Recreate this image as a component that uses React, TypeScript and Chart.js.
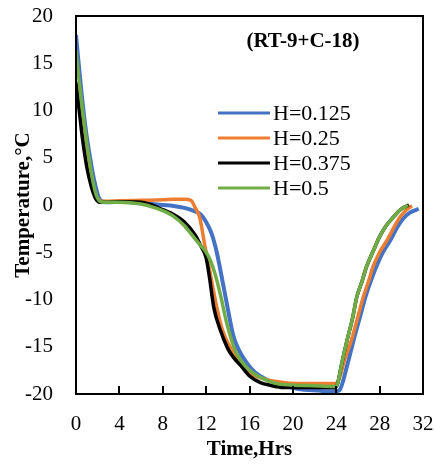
import { useEffect, useRef } from "react";
import { Chart, registerables } from "chart.js";

Chart.register(...registerables);

const chartTitle = "(RT-9+C-18)";
const xTitle = "Time,Hrs";
const yTitle = "Temperature,°C";
const labels = ["H=0.125", "H=0.25", "H=0.375", "H=0.5"];
const colors = ["#4472C4", "#ED7D31", "#000000", "#70AD47"];

const tBlue = [0, 0.2, 0.5, 0.9, 1.3, 1.7, 2.1, 2.5, 3, 4, 5, 6, 7, 8, 9, 10, 10.8, 11.5, 12.0, 12.5, 13.0, 13.5, 14.0, 14.5, 15.0, 15.8, 16.5, 17.6, 18.5, 19.5, 20.7, 22, 23, 24, 24.3, 25.0, 25.6, 26.2, 26.7, 27.2, 27.7, 28.3, 29.0, 29.6, 30.2, 30.8, 31.4, 31.6];
const vBlue = [18, 15.5, 12, 8, 5, 2.5, 0.8, 0.35, 0.3, 0.35, 0.3, 0.2, 0.1, 0, -0.1, -0.3, -0.6, -1.0, -1.8, -3.0, -5.1, -8.0, -11.0, -13.8, -15.3, -16.8, -17.7, -18.5, -18.9, -19.2, -19.5, -19.6, -19.7, -19.7, -19.6, -17, -14.3, -11.8, -9.7, -8, -6.5, -5, -3.7, -2.4, -1.4, -0.8, -0.5, -0.4];

const tOrange = [0, 0.3, 0.7, 1.1, 1.5, 1.9, 2.3, 2.8, 4, 6, 8, 9, 10, 10.6, 11.0, 11.4, 11.9, 12.2, 12.6, 13.0, 13.5, 14.2, 15.0, 16.0, 17.0, 18.0, 19.7, 21, 22.5, 23.9, 24.2, 24.8, 25.4, 26.0, 26.5, 27.0, 27.4, 28.0, 28.7, 29.3, 29.9, 30.4, 30.9, 31.0];
const vOrange = [12.9, 10.5, 7, 4.2, 2.2, 0.9, 0.4, 0.4, 0.45, 0.5, 0.55, 0.6, 0.6, 0.5, -0.3, -1.3, -4.4, -6.2, -8.6, -10.9, -13.2, -15.0, -16.5, -17.8, -18.3, -18.6, -18.85, -18.9, -18.9, -18.9, -18.6, -16.3, -14.3, -11.8, -9.7, -8, -6.5, -5, -3.7, -2.4, -1.24, -0.6, -0.15, -0.1];

const tBlack = [0, 0.3, 0.6, 1.0, 1.4, 1.8, 2.2, 2.7, 4, 6, 7, 8, 9, 10, 11, 11.5, 12.0, 12.3, 12.7, 13.3, 14.0, 14.5, 15.2, 16.0, 17, 18, 19.1, 20.5, 22, 23.9, 24.1, 24.5, 25.0, 25.5, 25.9, 26.4, 26.8, 27.4, 28.0, 28.6, 29.3, 29.9, 30.5, 30.7];
const vBlack = [13, 10, 7, 4, 2, 0.7, 0.3, 0.3, 0.35, 0.3, 0.0, -0.5, -1.0, -1.8, -3.2, -4.3, -5.6, -7.6, -10.8, -13.2, -15.2, -16.1, -17.0, -18.1, -18.8, -19.1, -19.3, -19.3, -19.3, -19.3, -19.0, -16.8, -14.3, -12, -9.7, -8, -6.5, -4.9, -3.35, -2.2, -1.24, -0.5, -0.1, 0.0];

const tGreen = [0, 0.3, 0.6, 1.0, 1.4, 1.8, 2.2, 2.6, 4, 6, 7, 8, 9, 10, 10.5, 11, 11.5, 12.0, 12.4, 12.8, 13.3, 13.9, 14.4, 14.8, 15.5, 16.35, 17.5, 18.5, 19.7, 21, 22.5, 23.9, 24.1, 24.5, 25.0, 25.5, 25.9, 26.4, 26.8, 27.4, 28.0, 28.6, 29.3, 29.9, 30.5, 30.6];
const vGreen = [16.4, 13, 10, 6.5, 3.5, 1.3, 0.4, 0.3, 0.3, 0.1, -0.2, -0.6, -1.2, -2.2, -2.9, -3.6, -4.3, -5.0, -5.9, -7.2, -9.4, -12.5, -14.5, -15.7, -16.9, -17.8, -18.5, -18.9, -19.05, -19.1, -19.15, -19.2, -19.0, -16.8, -14.3, -12, -9.7, -8, -6.5, -4.9, -3.35, -2.2, -1.24, -0.5, -0.1, 0.0];

const times = [tBlue, tOrange, tBlack, tGreen];
const values = [vBlue, vOrange, vBlack, vGreen];

const X_MIN = 0, X_MAX = 32, X_STEP = 4;
const Y_MIN = -20, Y_MAX = 20, Y_STEP = 5;

const FONT = "'Liberation Serif', serif";
const HIDDEN = "rgba(0,0,0,0)";

const overlayPlugin = {
  id: "overlay",
  afterDraw(chart: any) {
    const { ctx, chartArea } = chart;
    const left = Math.round(chartArea.left);
    const top = Math.round(chartArea.top);
    const right = Math.round(chartArea.right);
    const bottom = Math.round(chartArea.bottom);
    ctx.save();
    ctx.globalAlpha = 1;
    ctx.globalCompositeOperation = "source-over";
    ctx.fillStyle = "#000000";
    // frame as filled bars
    ctx.fillRect(left - 1, top - 1, right - left + 2, 2);
    ctx.fillRect(left - 1, bottom - 1, right - left + 2, 2);
    ctx.fillRect(left - 1, top - 1, 2, bottom - top + 2);
    ctx.fillRect(right - 1, top - 1, 2, bottom - top + 2);
    // inward x ticks
    const xs = chart.scales.x;
    for (let v = X_MIN + X_STEP; v < X_MAX; v += X_STEP) {
      const px = Math.round(xs.getPixelForValue(v));
      ctx.fillRect(px - 1, bottom - 8, 2, 8);
    }

    ctx.font = `bold 21px ${FONT}`;
    ctx.textAlign = "center";
    ctx.textBaseline = "middle";
    ctx.fillText(chartTitle, left + 227, top + 26);

    ctx.font = `22px ${FONT}`;
    ctx.textAlign = "left";
    labels.forEach((label, i) => {
      const y = top + 97 + i * 25;
      ctx.fillStyle = colors[i];
      ctx.fillRect(left + 142, y - 1.5, 52, 3);
      ctx.fillStyle = "#000000";
      ctx.fillText(label, left + 197, y + 1);
    });
    ctx.restore();
  },
};

export default function App() {
  const ref = useRef<HTMLCanvasElement | null>(null);
  useEffect(() => {
    if (!ref.current) return;
    const datasets = labels.map((label, i) => ({
      label,
      data: times[i].map((t, j) => ({ x: t, y: values[i][j] })),
      borderColor: colors[i],
      backgroundColor: colors[i],
      borderWidth: i === 0 ? 4 : 3.5,
      pointRadius: 0,
      cubicInterpolationMode: "monotone" as const,
      fill: false,
      order: labels.length - i,
    }));
    const chart = new Chart(ref.current, {
      type: "line",
      data: { datasets },
      options: {
        animation: false,
        responsive: false,
        layout: { padding: { top: 16, right: 12, left: 0, bottom: 0 } },
        plugins: { legend: { display: false }, tooltip: { enabled: false } },
        scales: {
          x: {
            type: "linear",
            position: "bottom",
            min: X_MIN,
            max: X_MAX,
            grid: { display: true, drawOnChartArea: false, drawTicks: true, tickLength: 18, tickColor: HIDDEN },
            border: { display: true, color: "#000", width: 2 },
            ticks: { stepSize: X_STEP, color: "#000", font: { family: FONT, size: 21 }, padding: 0, maxRotation: 0 },
            title: { display: true, text: xTitle, color: "#000", font: { family: FONT, size: 21, weight: "bold" }, padding: { top: 0, bottom: 3 } },
            afterFit: (s: any) => { s.height = 71; },
          },
          y: {
            type: "linear",
            position: "left",
            min: Y_MIN,
            max: Y_MAX,
            grid: { display: true, drawOnChartArea: false, drawTicks: true, tickLength: 23, tickColor: HIDDEN },
            border: { display: true, color: "#000", width: 2 },
            ticks: { stepSize: Y_STEP, color: "#000", font: { family: FONT, size: 21 }, padding: 0 },
            title: { display: true, text: yTitle, color: "#000", font: { family: FONT, size: 21, weight: "bold" }, padding: { top: 11, bottom: 0 } },
            afterFit: (s: any) => { s.width = 76; },
          },
        },
      },
      plugins: [overlayPlugin],
    });
    return () => chart.destroy();
  }, []);
  return (
    <div style={{ position: "fixed", left: 0, top: 0, width: 435, height: 465, background: "#fff" }}>
      <canvas ref={ref} width={435} height={465} style={{ display: "block" }} />
    </div>
  );
}
